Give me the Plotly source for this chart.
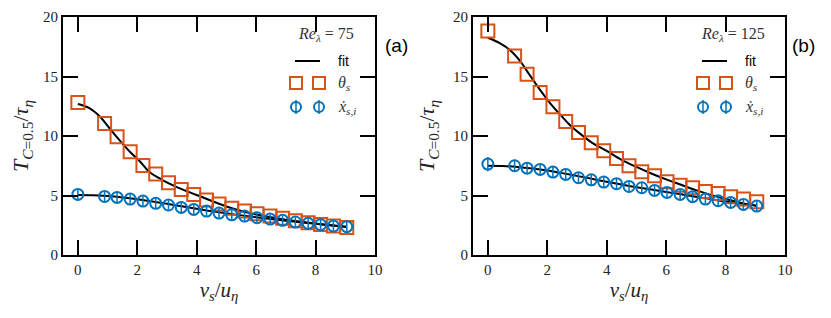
import plotly.graph_objects as go

# ---------------- data ----------------
vs = [0.0, 0.90, 1.32, 1.76, 2.19, 2.62, 3.05, 3.48, 3.90, 4.33, 4.75,
      5.18, 5.61, 6.03, 6.47, 6.89, 7.32, 7.75, 8.17, 8.60, 9.05]

theta_a = [12.81, 11.05, 9.93, 8.67, 7.52, 6.80, 6.07, 5.51, 5.09, 4.62, 4.28,
           3.92, 3.69, 3.47, 3.27, 3.08, 2.88, 2.71, 2.57, 2.43, 2.32]
xdot_a = [5.09, 4.92, 4.84, 4.70, 4.53, 4.34, 4.20, 4.00, 3.83, 3.69, 3.52,
          3.38, 3.27, 3.13, 3.02, 2.91, 2.77, 2.66, 2.55, 2.43, 2.38]
xdot_a_err = [0.45, 0.4, 0.4, 0.4, 0.4, 0.4, 0.4, 0.4, 0.4, 0.4, 0.4,
              0.4, 0.4, 0.4, 0.4, 0.4, 0.4, 0.4, 0.4, 0.4, 0.4]

theta_b = [18.83, 16.73, 15.19, 13.65, 12.45, 11.22, 10.29, 9.43, 8.76, 8.11, 7.50,
           6.99, 6.66, 6.15, 5.87, 5.65, 5.34, 5.17, 4.90, 4.70, 4.48]
xdot_b = [7.64, 7.50, 7.30, 7.19, 6.97, 6.77, 6.49, 6.32, 6.13, 5.99, 5.76,
          5.65, 5.43, 5.26, 5.09, 4.90, 4.70, 4.56, 4.42, 4.25, 4.11]
xdot_b_err = [0.6, 0.5, 0.45, 0.45, 0.5, 0.45, 0.45, 0.45, 0.45, 0.45, 0.45,
              0.45, 0.45, 0.45, 0.45, 0.45, 0.45, 0.45, 0.45, 0.45, 0.45]

# fit curves
fit_theta_a_x = [0.0, 0.4, 0.75, 1.05, 1.4, 1.75, 2.1, 2.4, 2.85, 3.3, 3.75,
                 4.2, 4.6, 5.0, 5.5, 6.0, 6.5, 7.0, 7.5, 8.0, 8.5, 9.05]
fit_theta_a = [12.69, 12.33, 11.62, 10.7, 9.66, 8.68, 7.84, 7.0, 6.3, 5.74, 5.28,
               4.85, 4.45, 4.08, 3.7, 3.4, 3.17, 2.97, 2.8, 2.64, 2.5, 2.35]
fit_theta_b_x = [0.0, 0.4, 0.75, 1.1, 1.4, 1.75, 2.1, 2.45, 2.75, 3.1, 3.5,
                 4.0, 4.5, 5.0, 5.5, 6.0, 6.5, 7.0, 7.5, 8.0, 8.5, 9.05]
fit_theta_b = [18.26, 17.8, 17.2, 16.25, 15.15, 13.9, 12.75, 11.75, 10.95, 10.2, 9.45,
               8.75, 8.0, 7.4, 6.85, 6.35, 5.9, 5.45, 5.05, 4.7, 4.4, 4.12]
fit_xdot_x = [0.0, 0.5, 1.0, 1.5, 2.0, 2.5, 3.0, 3.5, 4.0, 4.5, 5.0,
              5.5, 6.0, 6.5, 7.0, 7.5, 8.0, 8.5, 9.05]
fit_xdot_a = [5.05, 5.03, 4.95, 4.83, 4.68, 4.50, 4.30, 4.09, 3.88, 3.68, 3.50,
              3.33, 3.17, 3.02, 2.88, 2.75, 2.62, 2.50, 2.37]
fit_xdot_b = [7.50, 7.48, 7.40, 7.27, 7.10, 6.88, 6.65, 6.40, 6.15, 5.92, 5.70,
              5.50, 5.30, 5.10, 4.90, 4.70, 4.50, 4.33, 4.15]

x_ticks = [0, 2, 4, 6, 8, 10]
y_ticks = [0, 5, 10, 15, 20]
re_labels = ["75", "125"]
panel_labels = ["(a)", "(b)"]

ORANGE = "#D95319"
BLUE = "#0072BD"
SERIF = "Liberation Serif, DejaVu Serif, serif"
SANS = "Liberation Sans, Arial, sans-serif"

# page body has an 8px margin, so the figure is drawn 8px smaller and
# all target pixel positions below are shifted by -8
OFF = 8
W, H = 831 - OFF, 318 - OFF
ML, MT = 63 - OFF, 17 - OFF
PR, PB = 785 - OFF, 255 - OFF          # right / bottom edges of plot area
MR, MB = W - PR, H - PB
PW, PH = W - ML - MR, H - MT - MB

def px(x):
    return (x - OFF - ML) / PW

def py(y):
    return (H - MB - (y - OFF)) / PH

fig = go.Figure()

panels = [
    ("x", "y", theta_a, xdot_a, xdot_a_err, fit_theta_a_x, fit_theta_a, fit_xdot_a),
    ("x2", "y2", theta_b, xdot_b, xdot_b_err, fit_theta_b_x, fit_theta_b, fit_xdot_b),
]
for xa, ya, th, xd, xde, fthx, fth, fxd in panels:
    fig.add_trace(go.Scatter(x=fthx, y=fth, mode="lines", line=dict(color="black", width=2, shape="spline"),
                             xaxis=xa, yaxis=ya, showlegend=False))
    fig.add_trace(go.Scatter(x=fit_xdot_x, y=fxd, mode="lines", line=dict(color="black", width=2, shape="spline"),
                             xaxis=xa, yaxis=ya, showlegend=False))
    fig.add_trace(go.Scatter(x=vs, y=th, mode="markers",
                             marker=dict(symbol="square-open", size=13, color=ORANGE, line=dict(width=2, color=ORANGE)),
                             xaxis=xa, yaxis=ya, showlegend=False))
    fig.add_trace(go.Scatter(x=vs, y=xd, mode="markers",
                             marker=dict(symbol="circle-open", size=11, color=BLUE, line=dict(width=2, color=BLUE)),
                             error_y=dict(type="data", array=xde, visible=True, color=BLUE, thickness=1.5, width=0),
                             xaxis=xa, yaxis=ya, showlegend=False))

axis_common = dict(showline=True, linewidth=2, linecolor="black", mirror="ticks",
                   ticks="inside", ticklen=15, tickwidth=2, tickcolor="black",
                   showgrid=False, zeroline=False, automargin=False,
                   tickfont=dict(family=SERIF, size=15, color="#222"))

xtitle = dict(text="<i>v</i><sub><i>s</i></sub>/<i>u</i><sub><i>η</i></sub>",
              font=dict(family=SERIF, size=21, color="#222"), standoff=4)
ytitle = dict(text="<i>T</i><sub><i>C</i>=0.5</sub>/<i>τ</i><sub><i>η</i></sub>",
              font=dict(family=SERIF, size=22, color="#222"), standoff=12)

dom_a = [0, px(375)]
dom_b = [px(473), 1]

fig.update_layout(
    width=W, height=H,
    margin=dict(l=ML, r=MR, t=MT, b=MB, autoexpand=False),
    paper_bgcolor="white", plot_bgcolor="white",
    xaxis=dict(domain=dom_a, range=[-0.5, 10], tickvals=x_ticks, anchor="y", title=xtitle, **axis_common),
    yaxis=dict(domain=[0, 1], range=[0, 20], tickvals=y_ticks, anchor="x", title=ytitle, **axis_common),
    xaxis2=dict(domain=dom_b, range=[-0.5, 10], tickvals=x_ticks, anchor="y2", title=xtitle, **axis_common),
    yaxis2=dict(domain=[0, 1], range=[0, 20], tickvals=y_ticks, anchor="x2", title=ytitle, **axis_common),
    showlegend=False,
)

# ---------------- hand-drawn legend keys (decoration) ----------------
shapes = []
annotations = []
for i, off in enumerate([0, 407]):
    annotations.append(dict(x=px(326 + off), y=py(35), xref="paper", yref="paper",
                            text="<i>Re</i><sub><i>λ</i></sub> = " + re_labels[i], showarrow=False,
                            font=dict(family=SERIF, size=16, color="#333"), xanchor="center", yanchor="middle"))
    annotations.append(dict(x=px(396 + off), y=py(45), xref="paper", yref="paper",
                            text=panel_labels[i], showarrow=False,
                            font=dict(family=SANS, size=19, color="black"), xanchor="center", yanchor="middle"))
    shapes.append(dict(type="line", xref="paper", yref="paper",
                       x0=px(295 + off), x1=px(320 + off), y0=py(61), y1=py(61),
                       line=dict(color="black", width=2)))
    annotations.append(dict(x=px(336 + off), y=py(61), xref="paper", yref="paper", text="fit",
                            showarrow=False, font=dict(family=SANS, size=14, color="black"),
                            xanchor="left", yanchor="middle"))
    for cx in (296 + off, 319 + off):
        shapes.append(dict(type="rect", xref="paper", yref="paper",
                           x0=px(cx - 6), x1=px(cx + 6), y0=py(83 - 6), y1=py(83 + 6),
                           line=dict(color=ORANGE, width=2)))
        shapes.append(dict(type="circle", xref="paper", yref="paper",
                           x0=px(cx - 5), x1=px(cx + 5), y0=py(107 - 5), y1=py(107 + 5),
                           line=dict(color=BLUE, width=2)))
        shapes.append(dict(type="line", xref="paper", yref="paper",
                           x0=px(cx), x1=px(cx), y0=py(107 - 7), y1=py(107 + 7),
                           line=dict(color=BLUE, width=1.5)))
    annotations.append(dict(x=px(336 + off), y=py(83), xref="paper", yref="paper",
                            text="<i>θ</i><sub><i>s</i></sub>", showarrow=False,
                            font=dict(family=SERIF, size=16, color="#333"), xanchor="left", yanchor="middle"))
    annotations.append(dict(x=px(336 + off), y=py(107), xref="paper", yref="paper",
                            text="<i>ẋ</i><sub><i>s,i</i></sub>", showarrow=False,
                            font=dict(family=SERIF, size=16, color="#333"), xanchor="left", yanchor="middle"))

fig.update_layout(shapes=shapes, annotations=annotations)

fig.write_html("out.html")
